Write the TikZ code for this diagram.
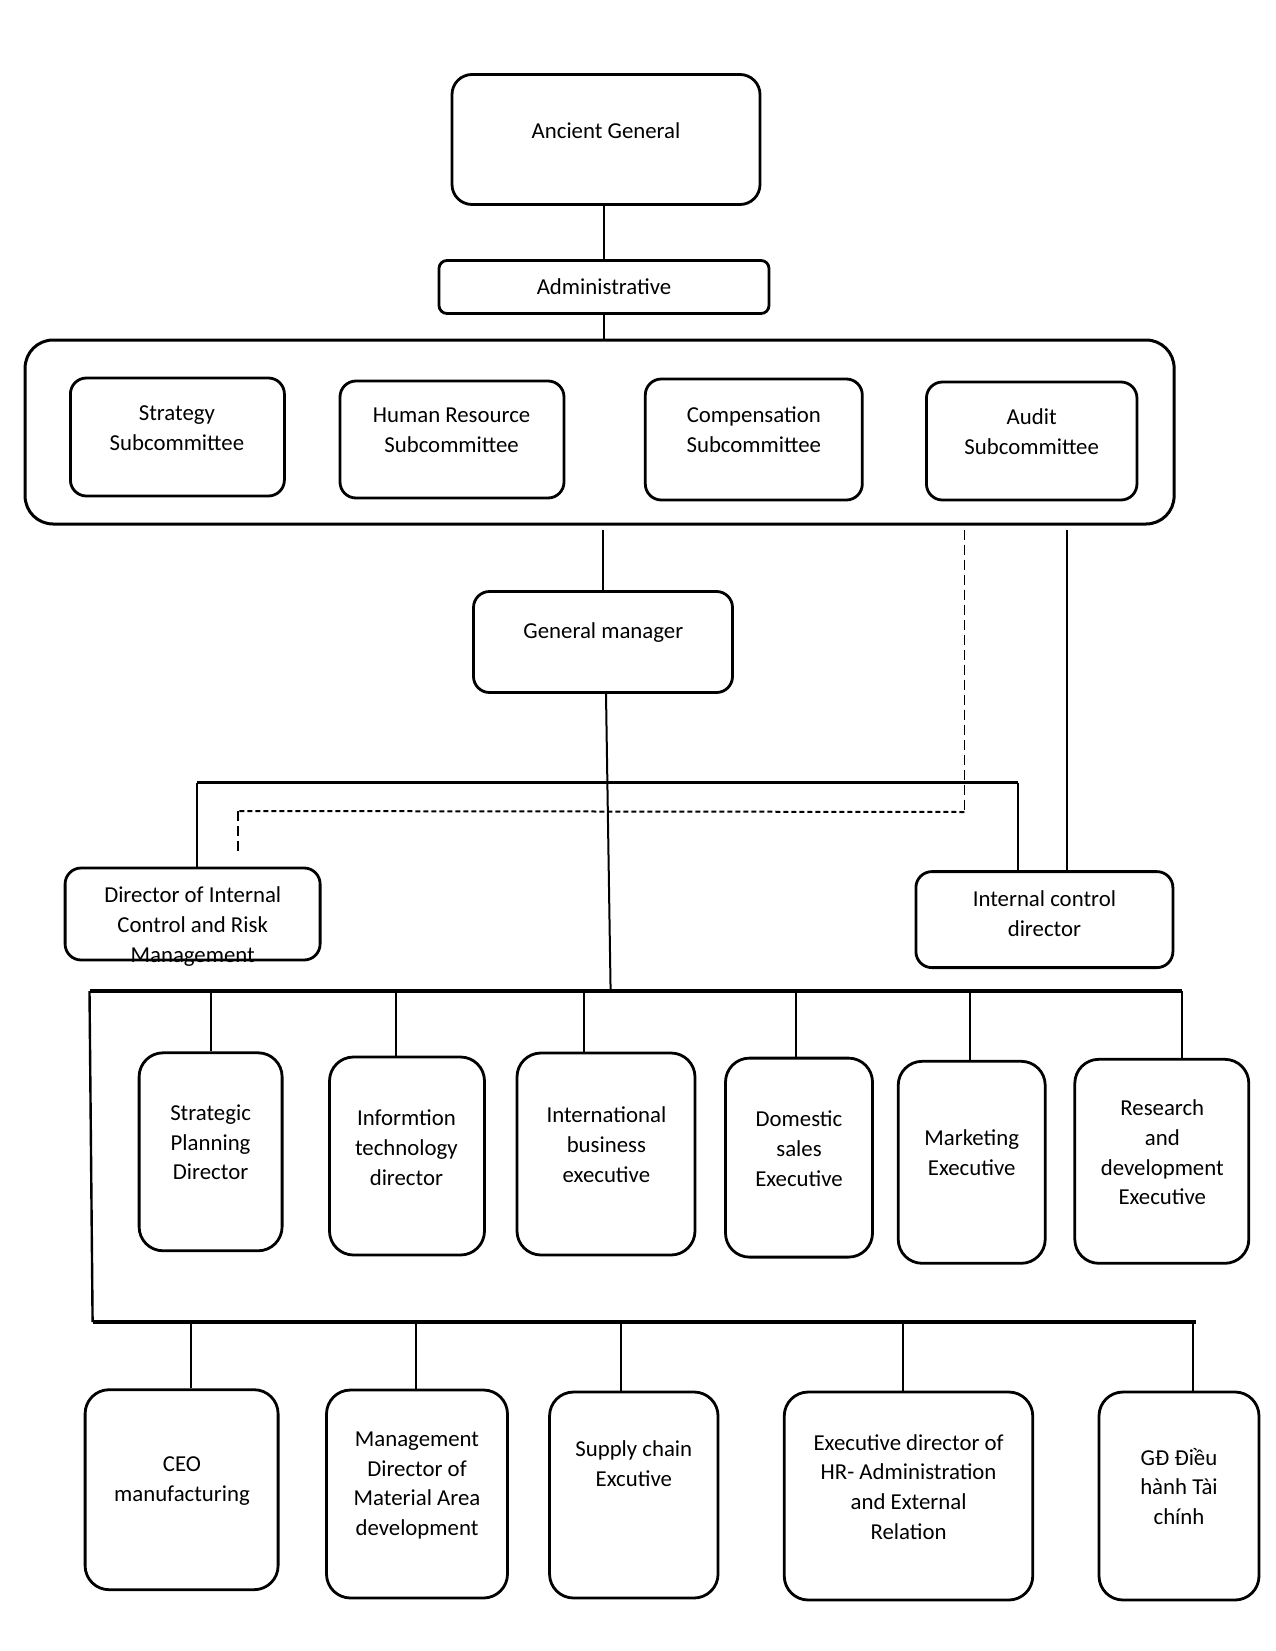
\documentclass[tikz,border=0pt]{standalone}
\usepackage{fontspec}
\setmainfont{Carlito}
\usetikzlibrary{calc}
\tikzset{
  unit/.style={
    draw,
    line width=2.8pt,
    rounded corners=16pt,
    inner sep=0pt
  },
  tallunit/.style={
    unit,
    rounded corners=24pt
  },
  board/.style={
    draw,
    line width=3pt,
    rounded corners=28pt,
    inner sep=0pt
  },
  lbl/.style={
    align=center,
    inner sep=0pt,
    font=\fontsize{22.8}{29.8}\selectfont
  },
  link/.style={line width=2pt},
  bus/.style={line width=3.6pt},
  longdash/.style={line width=1.6pt, dash pattern=on 10pt off 5pt},
  shortdash/.style={line width=2pt, dash pattern=on 5pt off 3pt}
}

\begin{document}
\begin{tikzpicture}[x=1pt,y=-1pt]
  \useasboundingbox (0,0) rectangle (1275,1651);

  % top of the chart
  \node[unit, rounded corners=20pt, minimum width=308, minimum height=130] (ag) at (606,139.5) {};
  \node[lbl] (ag-t) at (606,130.5) {Ancient General};
  \node[unit, rounded corners=8pt, minimum width=330, minimum height=53] (admin) at (604,287) {};
  \node[lbl] (admin-t) at (604,286.4) {Administrative};
  \node[board, minimum width=1149, minimum height=184] (board) at (599.6,432) {};
  \foreach \n/\x/\y/\w/\h/\tx/\ty/\t in {
      sst/177.4/437/214/118/176.9/428/{Strategy\\Subcommittee},
      shr/452/439.5/224/117/451.6/430/{Human Resource\\Subcommittee},
      sco/753.8/439.5/217/121/753.8/430/{Compensation\\Subcommittee},
      sau/1031.7/441/210.5/118/1031.7/431.6/{Audit\\Subcommittee}}{
    \node[unit, minimum width=\w, minimum height=\h] (\n) at (\x,\y) {};
    \node[lbl] (\n-t) at (\tx,\ty) {\t};
  }
  \draw[link] (admin.north |- ag.south) -- (admin.north);
  \draw[link] (admin.south) -- (admin.south |- board.north);

  % general manager and control
  \node[unit, minimum width=259, minimum height=101] (gm) at (603,642) {};
  \node[lbl] (gm-t) at (603.3,632.7) {General manager};
  \node[unit, minimum width=255, minimum height=92] (dir) at (192.6,914) {};
  \node[unit, minimum width=257, minimum height=96] (icd) at (1044.4,919.6) {};
  \draw[link] ([yshift=-4pt]board.south -| gm.north) -- (gm.north);

  \coordinate (b1l) at (196.9,782.5);
  \coordinate (b1r) at (1018,782.5);
  \draw[bus] (b1l) -- (b1r);
  \draw[link] (b1l) -- (b1l |- dir.north);
  \draw[link] (b1r) -- (b1r |- icd.north);

  \coordinate (auditdrop) at (1066.5,529.6);
  \draw[link] (auditdrop) -- (auditdrop |- icd.north);

  \coordinate (dashtop) at (964.4,529.6);
  \coordinate (dashturn) at (964.4,812);
  \coordinate (dashcorner) at (238,811);
  \coordinate (dashend) at (238,855);
  \draw[longdash] (dashtop) -- (dashturn);
  \draw[shortdash] (dashturn) -- (dashcorner);
  \draw[longdash] (dashcorner) -- (dashend);

  \node[lbl] (dir-t) at (192.7,926.5) {Director of Internal\\Control and Risk\\Management};
  \node[lbl] (icd-t) at (1044.4,913.8) {Internal control\\director};

  % first row of executives
  \coordinate (b2l) at (89.5,991);
  \coordinate (b2r) at (1182,991);
  \coordinate (gmfoot) at (610.6,991);
  \draw[link] ([xshift=3pt]gm.south) -- (gmfoot);
  \draw[bus] (b2l) -- (b2r);
  \foreach \n/\x/\y/\w/\h/\tx/\ty/\dx/\t in {
      spd/210.6/1151.8/143/198/210.6/1142.3/210.6/{Strategic\\Planning\\Director},
      itd/407/1156/155/198/406.4/1147.6/395.9/{Informtion\\technology\\director},
      ibe/606/1154/178/202/606.4/1144.4/584.3/{International\\business\\executive},
      dse/799/1157.6/147/199/799/1148.6/795.9/{Domestic\\sales\\Executive},
      mke/971.7/1162.3/147/202/971.7/1152.3/969.6/{Marketing\\Executive},
      rde/1161.8/1161.3/174/204/1162.3/1152.3/1182/{Research\\and\\development\\Executive}}{
    \node[tallunit, minimum width=\w, minimum height=\h] (\n) at (\x,\y) {};
    \node[lbl] (\n-t) at (\tx,\ty) {\t};
    \coordinate (\n-d) at (\dx,991);
    \draw[link] (\n-d) -- (\n-d |- \n.north);
  }

  % second row of executives
  \coordinate (b3l) at (92.6,1322);
  \coordinate (b3r) at (1196,1322);
  \draw[line width=2.4pt] (b2l) -- (b3l);
  \draw[bus] (b3l) -- (b3r);
  \foreach \n/\x/\y/\w/\h/\tx/\ty/\dx/\t in {
      ceo/181.6/1489.7/193/200/182/1480.7/190.6/{CEO\\manufacturing},
      mdm/417/1494/181/208/417/1485.5/415.9/{Management\\Director of\\Material Area\\development},
      sce/633.8/1495/168.5/206/633.8/1463.4/621.2/{Supply chain\\Excutive},
      edh/908.5/1496/248.5/208/908.6/1487/903.3/{Executive director of\\HR- Administration\\and External\\Relation},
      gdt/1179/1496/160/208/1179/1486.5/1192.8/{GĐ Điều\\hành Tài\\chính}}{
    \node[tallunit, minimum width=\w, minimum height=\h] (\n) at (\x,\y) {};
    \node[lbl] (\n-t) at (\tx,\ty) {\t};
    \coordinate (\n-d) at (\dx,1322);
    \draw[link] (\n-d) -- (\n-d |- \n.north);
  }
\end{tikzpicture}
\end{document}
